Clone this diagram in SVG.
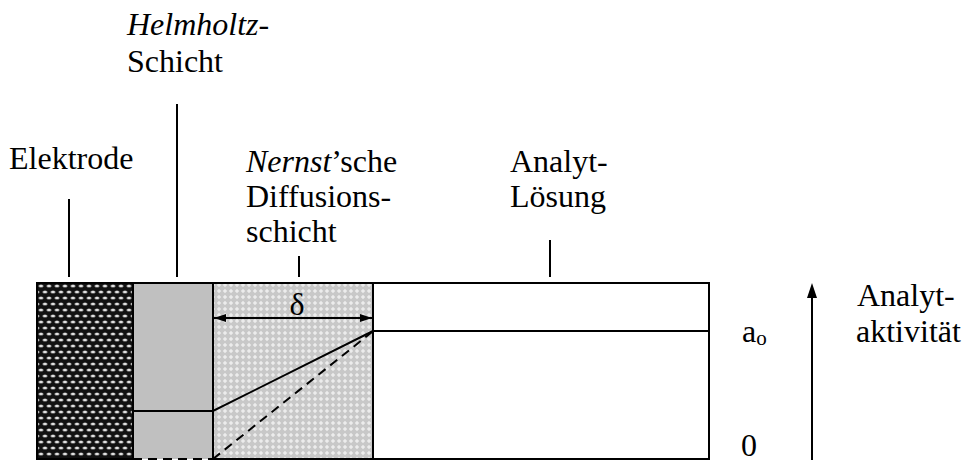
<svg xmlns="http://www.w3.org/2000/svg" width="967" height="464" viewBox="0 0 967 464" font-family="'Liberation Serif', 'Times New Roman', Tinos, 'DejaVu Serif', serif">
<style>
text{font-family:'Liberation Serif','Times New Roman',Tinos,'DejaVu Serif',serif;font-size:32px;fill:#000}
.it{font-style:italic}
.ln{stroke:#000;stroke-width:2;fill:none}
.box{stroke:#000;stroke-width:2}
</style>
<defs>
<pattern id="elec" width="8" height="12" patternUnits="userSpaceOnUse" x="37" y="283">
<rect width="8" height="12" fill="#111"/>
<ellipse cx="4" cy="3" rx="2.6" ry="1.5" fill="#aaa"/>
<ellipse cx="4" cy="3" rx="1.4" ry="0.8" fill="#fff"/>
<ellipse cx="0" cy="9" rx="2.6" ry="1.5" fill="#aaa"/>
<ellipse cx="0" cy="9" rx="1.4" ry="0.8" fill="#fff"/>
<ellipse cx="8" cy="9" rx="2.6" ry="1.5" fill="#aaa"/>
<ellipse cx="8" cy="9" rx="1.4" ry="0.8" fill="#fff"/>
</pattern>
<pattern id="diff" width="6" height="6" patternUnits="userSpaceOnUse">
<rect width="6" height="6" fill="#c8c8c8"/>
<path d="M3 0.8 L5.2 3 L3 5.2 L0.8 3Z" fill="#ececec"/>
</pattern>
<marker id="ah" viewBox="0 0 12 8" refX="12" refY="4" markerWidth="12" markerHeight="8" markerUnits="userSpaceOnUse" orient="auto-start-reverse">
<path d="M0 0 L12 4 L0 8 Z" fill="#000"/>
</marker>
</defs>

<g id="elektrode">
<rect class="box" x="37" y="283" width="96" height="176" fill="url(#elec)"/>
<text x="9" y="169">Elektrode</text>
</g>

<g id="helmholtz">
<rect x="133" y="283" width="80" height="176" fill="#c0c0c0"/>
<path class="ln" d="M133 459 V283 H213"/>
<text x="127" y="35"><tspan class="it">Helmholtz</tspan>-</text>
<text x="127" y="72">Schicht</text>
</g>

<g id="diffusion">
<rect class="box" x="213" y="283" width="160" height="176" fill="url(#diff)"/>
<text x="246" y="172"><tspan class="it">Nernst</tspan>’sche</text>
<text x="246" y="207">Diffusions-</text>
<text x="246" y="242">schicht</text>
<text x="297" y="315" text-anchor="middle">δ</text>
</g>

<g id="loesung">
<rect class="box" x="373" y="283" width="336" height="176" fill="#fff"/>
<text x="510" y="172">Analyt-</text>
<text x="510" y="207">Lösung</text>
</g>

<g id="achse">
<text x="742" y="342">a<tspan font-size="21" dy="3">o</tspan></text>
<text x="741" y="456">0</text>
<text x="857" y="306">Analyt-</text>
<text x="856" y="342">aktivität</text>
</g>

<g id="connectors">
<line class="ln" x1="69" y1="199" x2="69" y2="277"/>
<line class="ln" x1="177" y1="104" x2="177" y2="277"/>
<line class="ln" x1="299" y1="256" x2="299" y2="277"/>
<line class="ln" x1="550" y1="240" x2="550" y2="277"/>
<line class="ln" x1="214" y1="318" x2="372" y2="318" marker-start="url(#ah)" marker-end="url(#ah)"/>
<line class="ln" x1="373" y1="331" x2="709" y2="331"/>
<polyline class="ln" points="133,411 213,411 373,331"/>
<line class="ln" x1="133" y1="459" x2="213" y2="459" stroke-dasharray="9,6"/>
<line class="ln" x1="213" y1="459" x2="372" y2="332" stroke-dasharray="9,6"/>
<line class="ln" x1="812" y1="296" x2="812" y2="460"/>
<path d="M812 283 L807 298 L817 298 Z" fill="#000"/>
</g>
</svg>
